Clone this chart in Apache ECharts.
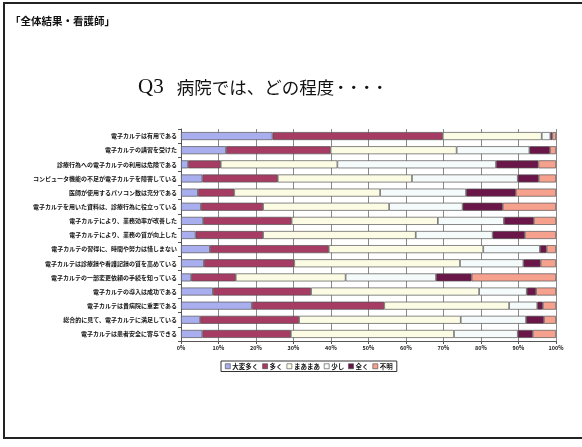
<!DOCTYPE html>
<html>
<head>
<meta charset="utf-8">
<script src="https://cdn.jsdelivr.net/npm/echarts@6/dist/echarts.min.js"></script>
<style>
  html, body { margin: 0; padding: 0; background: #fff; }
  #chart { width: 582px; height: 447px; }
</style>
</head>
<body>
<div id="chart"></div>
<script>
// ── Data ───────────────────────────────────────────────
const categories = [
  '電子カルテは有用である',
  '電子カルテの講習を受けた',
  '診療行為への電子カルテの利用は危険である',
  'コンピュータ機能の不足が電子カルテを障害している',
  '医師が使用するパソコン数は充分である',
  '電子カルテを用いた資料は、診療行為に役立っている',
  '電子カルテにより、業務効率が改善した',
  '電子カルテにより、業務の質が向上した',
  '電子カルテの習得に、時間や努力は惜しまない',
  '電子カルテは診療録や看護記録の質を高めている',
  '電子カルテの一部変更依頼の手続を知っている',
  '電子カルテの導入は成功である',
  '電子カルテは貴病院に重要である',
  '総合的に見て、電子カルテに満足している',
  '電子カルテは患者安全に寄与できる',
];

const seriesNames = ['大変多く', '多く', 'まあまあ', '少し', '全く', '不明'];

const veryMany = [24.4, 12.0,  1.9,  5.7,  4.5,  5.3,  5.9,  3.9,  7.7,  6.1,  2.7,  8.5, 18.9,  5.1,  5.7];
const many     = [45.4, 27.9,  8.7, 20.1,  9.7, 16.6, 23.6, 18.0, 31.7, 24.1, 11.9, 26.2, 35.3, 26.4, 23.6];
const moderate = [26.4, 33.6, 31.1, 35.8, 38.9, 33.6, 39.0, 40.7, 41.2, 44.2, 29.3, 44.8, 33.3, 43.1, 43.5];
const little   = [ 2.3, 19.4, 42.3, 28.2, 22.9, 19.6, 17.6, 20.5, 15.1, 16.9, 24.1, 12.7,  7.5, 17.4, 17.0];
const notAtAll = [ 0.5,  5.5, 11.3,  5.6, 13.3, 10.7,  8.0,  8.6,  1.8,  4.6,  9.5,  2.5,  1.5,  4.8,  4.0];
const unknown  = [ 1.0,  1.6,  4.7,  4.6, 10.7, 14.2,  5.9,  8.3,  2.5,  4.1, 22.5,  5.3,  3.5,  3.2,  6.2];

const seriesValues = [veryMany, many, moderate, little, notAtAll, unknown];
const colors = ['#A9AEEE', '#A63B63', '#FCFCE4', '#F5FAFA', '#6A1648', '#F6A08E'];

// ── Chart ──────────────────────────────────────────────
const JP = "'Noto Sans CJK JP', sans-serif";
const chart = echarts.init(document.getElementById('chart'));

chart.setOption({
  backgroundColor: '#FFFFFF',
  animation: false,
  color: colors,

  graphic: [
    { type: 'rect', shape: { x: 4, y: 3, width: 600, height: 435 },
      style: { fill: 'none', stroke: '#222', lineWidth: 2 } },
    { type: 'text', left: 10, top: 16,
      style: { text: '「全体結果・看護師」', font: "bold 10.5px 'Noto Sans CJK JP'", fill: '#111' } },
    { type: 'text', left: 138, top: 77,
      style: {
        text: '{q|Q3}{t|病院では、どの程度}{d|・・・・}',
        rich: {
          q: { fontFamily: "'Liberation Serif', serif", fontSize: 21, fill: '#111', padding: [0, 13, 0, 0] },
          t: { fontFamily: JP, fontSize: 17.5, fill: '#111' },
          d: { fontFamily: JP, fontSize: 13, fill: '#111', fontWeight: 'bold' },
        },
      } },
  ],

  grid: { left: 181, right: 26, top: 129, bottom: 106, containLabel: false },

  legend: {
    data: seriesNames,
    left: 221, top: 361,
    itemWidth: 5, itemHeight: 5, itemGap: 4,
    icon: 'rect',
    borderColor: '#333', borderWidth: 1, padding: [2, 4],
    itemStyle: { borderColor: '#444', borderWidth: 0.6 },
    textStyle: { fontFamily: JP, fontSize: 6.5, fontWeight: 'bold', color: '#111', padding: [0, 0, 0, -3] },
  },

  xAxis: {
    type: 'value',
    min: 0, max: 100, interval: 10,
    axisLine: { show: true, lineStyle: { color: '#555' } },
    axisTick: { show: true, length: 3, lineStyle: { color: '#555' } },
    splitLine: { lineStyle: { color: '#8A8A8A', width: 1 } },
    axisLabel: {
      formatter: '{value}%', margin: 4,
      fontFamily: JP, fontSize: 5.5, fontWeight: 'bold', color: '#222',
    },
  },

  yAxis: {
    type: 'category',
    data: categories,
    inverse: true,
    axisLine: { show: true, lineStyle: { color: '#555' } },
    axisTick: { show: true, length: 3, lineStyle: { color: '#555' } },
    axisLabel: {
      interval: 0, margin: 4,
      fontFamily: JP, fontSize: 6, fontWeight: 'bold', color: '#111',
    },
  },

  series: seriesNames.map((name, i) => ({
    name,
    type: 'bar',
    stack: 'total',
    barWidth: 8,
    data: seriesValues[i],
    itemStyle: { borderColor: '#555', borderWidth: 0.7 },
    emphasis: { disabled: true },
  })),
});
</script>
</body>
</html>
